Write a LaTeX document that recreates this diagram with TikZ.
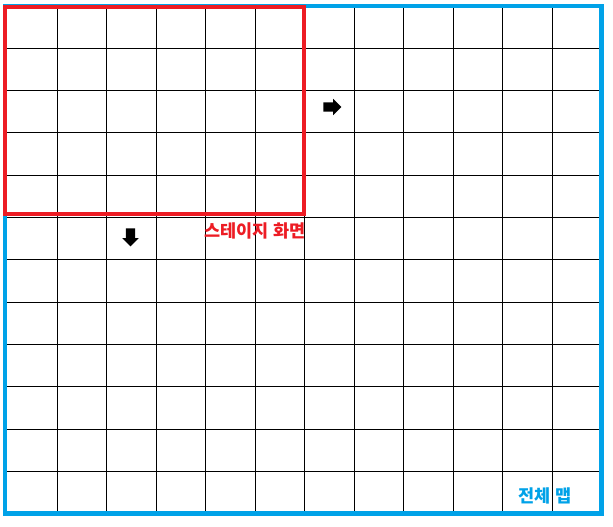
\documentclass[tikz,border=0pt]{standalone}
\usepackage{fontspec}
\usepackage{tikz}
\usetikzlibrary{shapes.arrows, positioning}
\newfontfamily\kofont{Noto Sans CJK KR}
\definecolor{stagered}{HTML}{ED1C24}
\definecolor{mapblue}{HTML}{00A2E8}

\begin{document}
\begin{tikzpicture}[
    x=1pt, y=-1pt,
    gridline/.style={black, line width=1pt},
    frame/.style={line width=4.2pt},
    movearrow/.style={single arrow, fill=black, draw=none, inner xsep=0pt, inner ysep=4.5pt,
        minimum height=18pt, single arrow head extend=3.5pt},
    label/.style={font=\kofont\bfseries\fontsize{17.5}{20}\selectfont, inner sep=0pt}
]
    \useasboundingbox (0,0) rectangle (613,527);
    \fill[white] (0,0) rectangle (613,527);

    % Grid
    \foreach \i in {1,...,11}
        \draw[gridline] ({7.5+49.5*\i},6) -- ({7.5+49.5*\i},513.5);
    \foreach \j in {1,...,11}
        \draw[gridline] (5,{6+42.3*\j}) -- (601.5,{6+42.3*\j});

    % Frames
    \draw[frame, mapblue] (5,6) rectangle (601.5,513.5);
    \draw[frame, stagered] (5,7) rectangle (304,214);

    % Arrows
    \node[movearrow] (right_arrow) at (330,107) {};
    \node[movearrow, rotate=-90] (down_arrow) at (130.5,235) {};

    % Labels
    \node[label, text=stagered] (stage) at (255,231) {스테이지 화면};
    \node[label, text=mapblue] (world) at (545,496) {전체 맵};
\end{tikzpicture}
\end{document}
